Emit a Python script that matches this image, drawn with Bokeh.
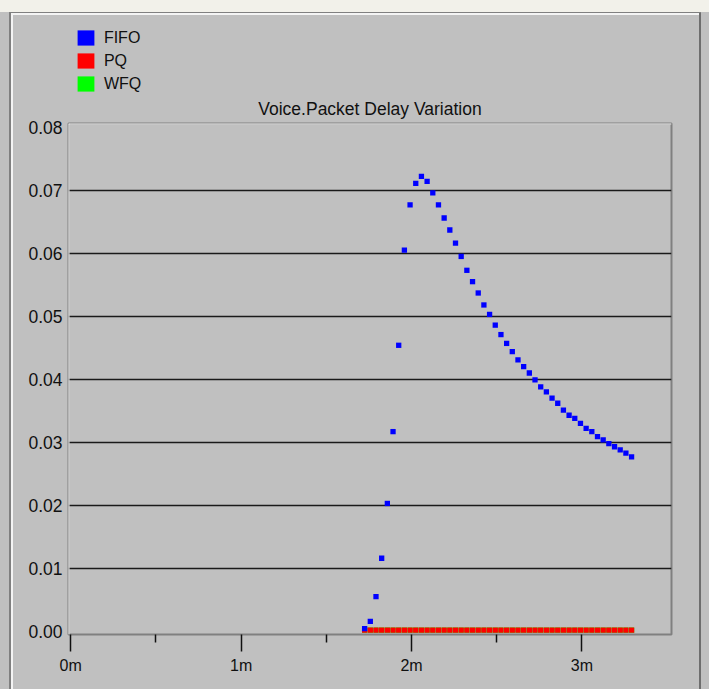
from bokeh.plotting import figure
from bokeh.layouts import column
from bokeh.models import (Range1d, FixedTicker, NumeralTickFormatter, PrintfTickFormatter,
                          Legend, LegendItem, Span, InlineStyleSheet)
from bokeh.embed import file_html
from bokeh.resources import INLINE

# ---------------- data ----------------
series_names = ["FIFO", "PQ", "WFQ"]
series_colors = ["#0000FF", "#FF0000", "#00FF00"]
title_text = "Voice.Packet Delay Variation"

# sample times (seconds)
time_s = [103.5, 105.5, 107.5, 109.5, 111.5, 113.5, 115.5, 117.5, 119.5, 121.5,
          123.5, 125.5, 127.5, 129.5, 131.5, 133.5, 135.5, 137.5, 139.5, 141.5,
          143.5, 145.5, 147.5, 149.5, 151.5, 153.5, 155.5, 157.5, 159.5, 161.5,
          163.5, 165.5, 167.5, 169.5, 171.5, 173.5, 175.5, 177.5, 179.5, 181.5,
          183.5, 185.5, 187.5, 189.5, 191.5, 193.5, 195.5, 197.5]

fifo = [0.00043, 0.00159, 0.0055, 0.0116, 0.0203, 0.0317, 0.0454, 0.0605, 0.0677, 0.0711,
        0.0722, 0.0714, 0.0696, 0.0677, 0.0656, 0.0637, 0.0616, 0.0595, 0.0573, 0.0555,
        0.0537, 0.0518, 0.0503, 0.0486, 0.0471, 0.0457, 0.0444, 0.0431, 0.0420, 0.0410,
        0.0399, 0.0388, 0.0380, 0.0370, 0.0362, 0.0351, 0.0343, 0.0338, 0.0330, 0.0322,
        0.0317, 0.0309, 0.0304, 0.0298, 0.0293, 0.0288, 0.0283, 0.0277]

pq = [0.0002, 0.0002, 0.0002, 0.0002, 0.0002, 0.0002, 0.0002, 0.0002, 0.0002, 0.0002,
      0.0002, 0.0002, 0.0002, 0.0002, 0.0002, 0.0002, 0.0002, 0.0002, 0.0002, 0.0002,
      0.0002, 0.0002, 0.0002, 0.0002, 0.0002, 0.0002, 0.0002, 0.0002, 0.0002, 0.0002,
      0.0002, 0.0002, 0.0002, 0.0002, 0.0002, 0.0002, 0.0002, 0.0002, 0.0002, 0.0002,
      0.0002, 0.0002, 0.0002, 0.0002, 0.0002, 0.0002, 0.0002, 0.0002]

wfq = [0.0002, 0.0002, 0.0002, 0.0002, 0.0002, 0.0002, 0.0002, 0.0002, 0.0002, 0.0002,
       0.0002, 0.0002, 0.0002, 0.0002, 0.0002, 0.0002, 0.0002, 0.0002, 0.0002, 0.0002,
       0.0002, 0.0002, 0.0002, 0.0002, 0.0002, 0.0002, 0.0002, 0.0002, 0.0002, 0.0002,
       0.0002, 0.0002, 0.0002, 0.0002, 0.0002, 0.0002, 0.0002, 0.0002, 0.0002, 0.0002,
       0.0002, 0.0002, 0.0002, 0.0002, 0.0002, 0.0002, 0.0002, 0.0002]

y_ticks = [0.0, 0.01, 0.02, 0.03, 0.04, 0.05, 0.06, 0.07, 0.08]
grid_ticks = [0.01, 0.02, 0.03, 0.04, 0.05, 0.06, 0.07]
x_ticks_min = [0, 1, 2, 3]
x_minor_ticks_min = [0.5, 1.5, 2.5]

time_min = [t / 60.0 for t in time_s]

FONT = "Liberation Sans"
BG = "#C0C0C0"
TOP_H = 92
W, H = 709, 689
MAIN_H = H - TOP_H

# ---------------- top strip with the legend ----------------
top_css = """
:host { position: relative; background-color: #C0C0C0; }
:host::after {
  content: "";
  position: absolute; left: 0; top: 0; width: 709px; height: 93px;
  pointer-events: none; z-index: 10;
  background:
    linear-gradient(#F2F1EA,#F2F1EA) 0px 0px / 709px 12px no-repeat,
    linear-gradient(#808080,#808080) 9px 12px / 692px 1px no-repeat,
    linear-gradient(#F4F4F4,#F4F4F4) 11px 13px / 688px 2px no-repeat,
    linear-gradient(#808080,#808080) 9px 12px / 2px 81px no-repeat,
    linear-gradient(#F4F4F4,#F4F4F4) 11px 13px / 2px 80px no-repeat,
    linear-gradient(#6E6E6E,#6E6E6E) 699px 12px / 2px 81px no-repeat;
}
"""

top = figure(width=W, height=TOP_H, output_backend="svg", toolbar_location=None,
             x_range=Range1d(0, 1), y_range=Range1d(0, 1),
             min_border=0, min_border_top=0, min_border_bottom=0)
top.stylesheets = [InlineStyleSheet(css=top_css)]
top.axis.visible = False
top.grid.visible = False
top.outline_line_color = None
top.background_fill_color = None
top.border_fill_color = BG

items = []
for name, col in zip(series_names, series_colors):
    # swatch renderers (kept outside the visible range; only their legend glyph shows)
    r = top.quad(left=[5], right=[6], top=[6], bottom=[5], fill_color=col, line_color=None)
    items.append(LegendItem(label=name, renderers=[r]))

legend = Legend(items=items, location=(6.9, -1.1), orientation="vertical",
                glyph_width=21, glyph_height=19, label_height=19, spacing=4,
                label_standoff=8, padding=0, margin=0,
                border_line_color=None, background_fill_alpha=0,
                label_text_font=FONT, label_text_font_size="16px", label_text_color="#101010")
top.add_layout(legend, "center")

# ---------------- main chart ----------------
decor_css = """
:host { position: relative; background-color: #C0C0C0; }
:host::after {
  content: "";
  position: absolute; left: 0; top: -1px; width: 709px; height: 598px;
  pointer-events: none; z-index: 10;
  background:
    linear-gradient(#808080,#808080) 9px 0px / 2px 598px no-repeat,
    linear-gradient(#F4F4F4,#F4F4F4) 11px 0px / 2px 598px no-repeat,
    linear-gradient(#6E6E6E,#6E6E6E) 699px 0px / 2px 598px no-repeat;
}
"""

p = figure(width=W, height=MAIN_H, output_backend="svg", toolbar_location=None,
           x_range=Range1d(-0.013, 3.526), y_range=Range1d(-0.0005, 0.0806),
           min_border_left=68, min_border_right=38, min_border_top=123 - TOP_H,
           min_border_bottom=55)
p.stylesheets = [InlineStyleSheet(css=decor_css)]
p.background_fill_color = BG
p.border_fill_color = BG
p.outline_line_color = "#808080"
p.outline_line_width = 2

p.title.text = title_text
p.title.align = "center"
p.title.text_font = FONT
p.title.text_font_size = "17.5px"
p.title.text_font_style = "normal"
p.title.text_color = "#101010"
p.title.standoff = 9

p.xgrid.visible = False
p.ygrid.ticker = FixedTicker(ticks=grid_ticks)
p.ygrid.grid_line_color = "#1a1a1a"
p.ygrid.grid_line_width = 1.6

p.yaxis.ticker = FixedTicker(ticks=y_ticks)
p.yaxis.formatter = NumeralTickFormatter(format="0.00")
p.yaxis.axis_line_color = None
p.yaxis.major_tick_line_color = None
p.yaxis.minor_tick_line_color = None
p.yaxis.major_tick_out = 0
p.yaxis.major_tick_in = 0
p.yaxis.major_label_standoff = 6
p.yaxis.major_label_text_font = FONT
p.yaxis.major_label_text_font_size = "17.5px"
p.yaxis.major_label_text_color = "#101010"

p.xaxis.ticker = FixedTicker(ticks=x_ticks_min, minor_ticks=x_minor_ticks_min)
p.xaxis.formatter = PrintfTickFormatter(format="%dm")
p.xaxis.axis_line_color = None
p.xaxis.major_tick_in = 0
p.xaxis.major_tick_out = 17
p.xaxis.minor_tick_in = 0
p.xaxis.minor_tick_out = 8
p.xaxis.major_tick_line_color = "#101010"
p.xaxis.minor_tick_line_color = "#101010"
p.xaxis.major_tick_line_width = 1.5
p.xaxis.minor_tick_line_width = 1.5
p.xaxis.major_label_standoff = 5
p.xaxis.major_label_text_font = FONT
p.xaxis.major_label_text_font_size = "16px"
p.xaxis.major_label_text_color = "#101010"

# light top / left frame edges
p.add_layout(Span(location=0.0806, dimension="width", line_color="#EEEEEE", line_width=2))
p.add_layout(Span(location=-0.013, dimension="height", line_color="#EEEEEE", line_width=2))

# data (WFQ, PQ, FIFO so that FIFO is drawn on top)
p.scatter(time_min, wfq, marker="square", size=5.3, fill_color=series_colors[2], line_color=None)
p.scatter(time_min, pq, marker="square", size=5.3, fill_color=series_colors[1], line_color=None)
p.scatter(time_min, fifo, marker="square", size=5.3, fill_color=series_colors[0], line_color=None)

layout = column(top, p, spacing=0, styles={"background-color": BG})
open("out.html", "w").write(file_html(layout, INLINE))
